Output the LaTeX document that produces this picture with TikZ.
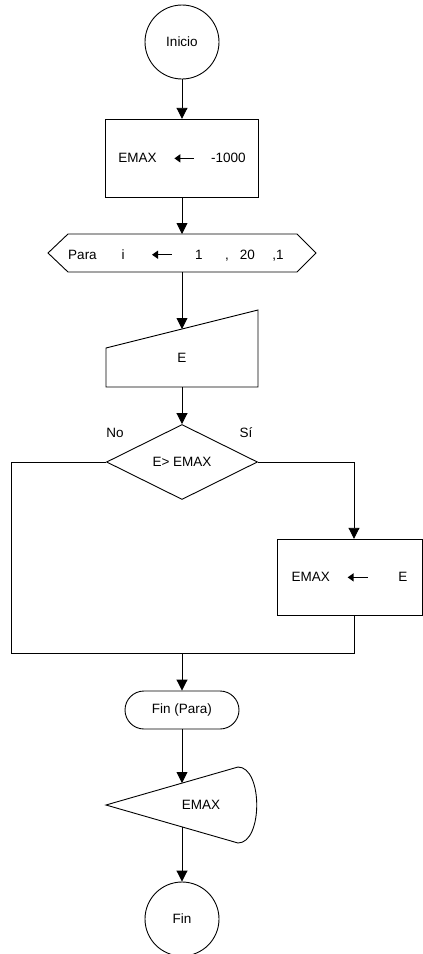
\documentclass[tikz,border=0pt]{standalone}
\usepackage{fontspec}
\setmainfont{Liberation Sans}
\usetikzlibrary{arrows.meta,shapes.geometric,calc}

\tikzset{
  flecha/.style={-{Triangle[length=11pt,width=11pt]}},
  circulo/.style={draw,circle,minimum size=74pt,inner sep=0pt},
  bloque/.style={draw,rectangle,inner sep=0pt},
  decision/.style={draw,diamond,minimum width=151pt,minimum height=75pt,inner sep=0pt},
  terminal/.style={draw,rounded corners=19pt,minimum width=114pt,minimum height=38pt,inner sep=0pt}
}
\newcommand{\asigna}{\tikz[baseline=-0.6ex]\draw[{Triangle[length=6pt,width=8pt]}-,line width=1.4pt](0,0)--(20pt,0);}

\begin{document}
\begin{tikzpicture}[x=1pt,y=-1pt,line width=0.9pt,font=\fontsize{13.5}{16}\selectfont]
  \useasboundingbox (0,0) rectangle (423,954);

  \node[circulo] (inicio) at (182,42) {Inicio};
  \node[bloque,minimum width=153pt,minimum height=78pt] (emax0) at (182,158)
    {EMAX\hspace{17pt}\asigna\hspace{16pt}-1000\hspace{6pt}};

  % ciclo Para
  \draw (48,253) -- (68,234) -- (297,234) -- (316,253) -- (297,272) -- (68,272) -- cycle;
  \coordinate (para-n) at (182,234);
  \coordinate (para-s) at (182,272);
  \foreach \x/\t [count=\k] in {82.5/Para,123/i,162/\asigna,199/1,227/{,},247.5/20,278/{,1}}
    \node[anchor=base] (para\k) at (\x,259) {\t};

  % lectura
  \draw (106,348) -- (258,310) -- (258,387) -- (106,387) -- cycle;
  \coordinate (lee-n) at (182,329);
  \coordinate (lee-s) at (182,387);
  \node (lee) at (182,358) {E};

  \node[decision] (cond) at (182,462) {E> EMAX};
  \node (no) at (115,433) {No};
  \node (si) at (246,433) {Sí};

  \node[bloque,minimum width=145pt,minimum height=76pt] (emax1) at (349.5,577)
    {EMAX\hspace{17pt}\asigna\hspace{30pt}E\hspace{9pt}};

  \coordinate (ramal) at (354,653);
  \coordinate (izq) at (11,653);
  \coordinate (union) at (182,653);

  \node[terminal] (finpara) at (182,710) {Fin (Para)};

  % salida
  \draw (106,805) -- (238,767) .. controls (263,767) and (263,843) .. (238,843) -- cycle;
  \coordinate (sal-n) at (182,783);
  \coordinate (sal-s) at (182,827);
  \node (sal) at (201,805) {EMAX};

  \node[circulo] (fin) at (182,919) {Fin};

  \draw[flecha] (inicio) -- (emax0);
  \draw[flecha] (emax0) -- (para-n);
  \draw[flecha] (para-s) -- (lee-n);
  \draw[flecha] (lee-s) -- (cond);
  \draw[flecha] (cond.east) -| (ramal |- emax1.north);
  \draw (ramal |- emax1.south) -- (ramal) -- (izq) |- (cond.west);
  \draw[flecha] (union) -- (finpara);
  \draw[flecha] (finpara) -- (sal-n);
  \draw[flecha] (sal-s) -- (fin);
\end{tikzpicture}
\end{document}
